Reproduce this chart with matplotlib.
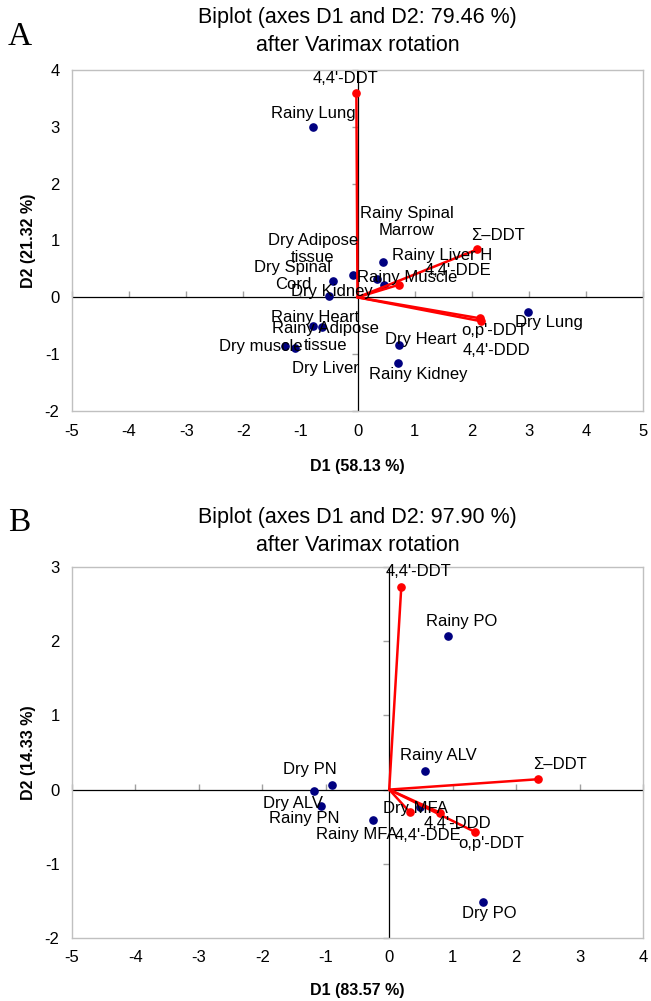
import matplotlib
matplotlib.use("Agg")
import matplotlib.pyplot as plt

plt.rcParams['font.family'] = ['Liberation Sans', 'DejaVu Sans']
plt.rcParams['axes.unicode_minus'] = False

# ---------------- Data: panel A ----------------
a_obs_names = ["Rainy Lung", "Dry Adipose\ntissue", "Dry Spinal\nCord", "Dry Kidney",
               "Rainy Spinal\nMarrow", "Rainy Liver H", "Rainy Muscle",
               "Rainy Heart", "Rainy Adipose\ntissue", "Dry muscle", "Dry Liver",
               "Dry Heart", "Rainy Kidney", "Dry Lung"]
a_obs_d1 = [-0.78, -0.08, -0.43, -0.50, 0.35, 0.45, 0.47, -0.78, -0.62, -1.27, -1.10, 0.73, 0.71, 2.99]
a_obs_d2 = [2.99, 0.39, 0.29, 0.02, 0.32, 0.63, 0.22, -0.50, -0.52, -0.85, -0.89, -0.83, -1.16, -0.26]

a_var_names = ["4,4'-DDT", "Σ–DDT", "4,4'-DDE", "o,p'-DDT", "4,4'-DDD"]
a_var_d1 = [-0.02, 2.10, 0.72, 2.15, 2.16]
a_var_d2 = [3.60, 0.845, 0.22, -0.37, -0.42]

a_title = "Biplot (axes D1 and D2: 79.46 %)\nafter Varimax rotation"
a_xlabel = "D1 (58.13 %)"
a_ylabel = "D2 (21.32 %)"
a_xticks = [-5, -4, -3, -2, -1, 0, 1, 2, 3, 4, 5]
a_yticks = [-2, -1, 0, 1, 2, 3, 4]

# ---------------- Data: panel B ----------------
b_obs_names = ["Rainy PO", "Rainy ALV", "Dry PN", "Dry ALV", "Rainy PN",
               "Rainy MFA", "Dry MFA", "Dry PO"]
b_obs_d1 = [0.92, 0.56, -0.90, -1.19, -1.08, -0.25, 0.49, 1.48]
b_obs_d2 = [2.07, 0.25, 0.06, -0.02, -0.22, -0.41, -0.23, -1.51]

b_var_names = ["4,4'-DDT", "Σ–DDT", "4,4'-DDE", "4,4'-DDD", "o,p'-DDT"]
b_var_d1 = [0.19, 2.35, 0.32, 0.80, 1.35]
b_var_d2 = [2.73, 0.14, -0.30, -0.31, -0.57]

b_title = "Biplot (axes D1 and D2: 97.90 %)\nafter Varimax rotation"
b_xlabel = "D1 (83.57 %)"
b_ylabel = "D2 (14.33 %)"
b_xticks = [-5, -4, -3, -2, -1, 0, 1, 2, 3, 4]
b_yticks = [-2, -1, 0, 1, 2, 3]

# ---------------- Layout: label offsets (pixels) ----------------
a_obs_off = [(0, 14), (-40, 26), (-40, 5), (3, 5), (29, 57), (59, 6), (23, 7),
             (2, 8), (3, -10), (-24, -1), (31, -21), (22, 5), (20, -11), (21, -10)]
a_var_off = [(-11, 14), (21, 14), (59, 14), (14, -12), (16, -29)]
b_obs_off = [(14, 15), (14, 16), (-22, 16), (-21, -12), (-16, -13), (-17, -14), (-5, -2), (6, -12)]
b_var_off = [(17, 16), (22, 15), (18, -24), (17, -11), (16, -12)]

W, H = 651, 1001
fig = plt.figure(figsize=(W / 100, H / 100), dpi=100)

FRAME = "#c0c0c0"
TICKC = "#a0a0a0"
RED = "#ff0000"
NAVY = "#000080"


def panel(rect, xlim, ylim, xticks, yticks, obs_n, obs_x, obs_y, obs_off,
          var_n, var_x, var_y, var_off):
    ax = fig.add_axes(rect)
    ax.set_xlim(*xlim)
    ax.set_ylim(*ylim)
    ax.set_xticks(xticks)
    ax.set_yticks(yticks)
    ax.tick_params(length=0, labelsize=12, pad=9, colors="black")
    for s in ax.spines.values():
        s.set_color(FRAME)
        s.set_linewidth(1.0)
    ax.axhline(0, color="black", lw=0.9, zorder=2)
    ax.axvline(0, color="black", lw=0.9, zorder=2)
    # small tick marks on zero lines
    ax.plot(xticks, [0] * len(xticks), linestyle="none", marker=2, markersize=4.5,
            color=TICKC, mew=1.0, zorder=1.5, clip_on=False)
    ax.plot([0] * len(yticks), yticks, linestyle="none", marker=0, markersize=4.5,
            color=TICKC, mew=1.0, zorder=1.5, clip_on=False)
    # observations
    ax.plot(obs_x, obs_y, linestyle="none", marker="o", markersize=5.2,
            color=NAVY, zorder=3)
    # variable vectors
    for x, y in zip(var_x, var_y):
        ax.plot([0, x], [0, y], color=RED, lw=1.8, zorder=4, solid_capstyle="round")
    ax.plot(var_x, var_y, linestyle="none", marker="o", markersize=5.2,
            color=RED, zorder=4)
    for n, x, y, o in zip(obs_n + var_n, list(obs_x) + list(var_x),
                          list(obs_y) + list(var_y), obs_off + var_off):
        ax.annotate(n, (x, y), xytext=o, textcoords="offset pixels",
                    ha="center", va="center", fontsize=12, zorder=6,
                    linespacing=1.15)
    return ax


axA = panel([72 / W, 1 - 411 / H, 571 / W, 341 / H], (-5, 5), (-2, 4),
            a_xticks, a_yticks, a_obs_names, a_obs_d1, a_obs_d2, a_obs_off,
            a_var_names, a_var_d1, a_var_d2, a_var_off)
axB = panel([72 / W, 1 - 938 / H, 571 / W, 371 / H], (-5, 4), (-2, 3),
            b_xticks, b_yticks, b_obs_names, b_obs_d1, b_obs_d2, b_obs_off,
            b_var_names, b_var_d1, b_var_d2, b_var_off)

cx = 357.5 / W
for title, y1 in ((a_title, 31.5), (b_title, 531.5)):
    fig.text(cx, 1 - y1 / H, title, ha="center", va="center", fontsize=15.5,
             linespacing=1.4)
fig.text(cx, 1 - 466 / H, a_xlabel, ha="center", va="center", fontsize=11.5,
         fontweight="bold")
fig.text(cx, 1 - 990 / H, b_xlabel, ha="center", va="center", fontsize=11.5,
         fontweight="bold")
fig.text(28 / W, 1 - 240.5 / H, a_ylabel, ha="center", va="center", rotation=90,
         fontsize=11.5, fontweight="bold")
fig.text(28 / W, 1 - 752.5 / H, b_ylabel, ha="center", va="center", rotation=90,
         fontsize=11.5, fontweight="bold")

fig.text(8 / W, 1 - 45 / H, "A", ha="left", va="baseline", fontsize=24,
         family=["Liberation Serif", "DejaVu Serif"])
fig.text(8 / W, 1 - 531 / H, "B", ha="left", va="baseline", fontsize=24,
         family=["Liberation Serif", "DejaVu Serif"])

fig.savefig("out.png", dpi=100)
